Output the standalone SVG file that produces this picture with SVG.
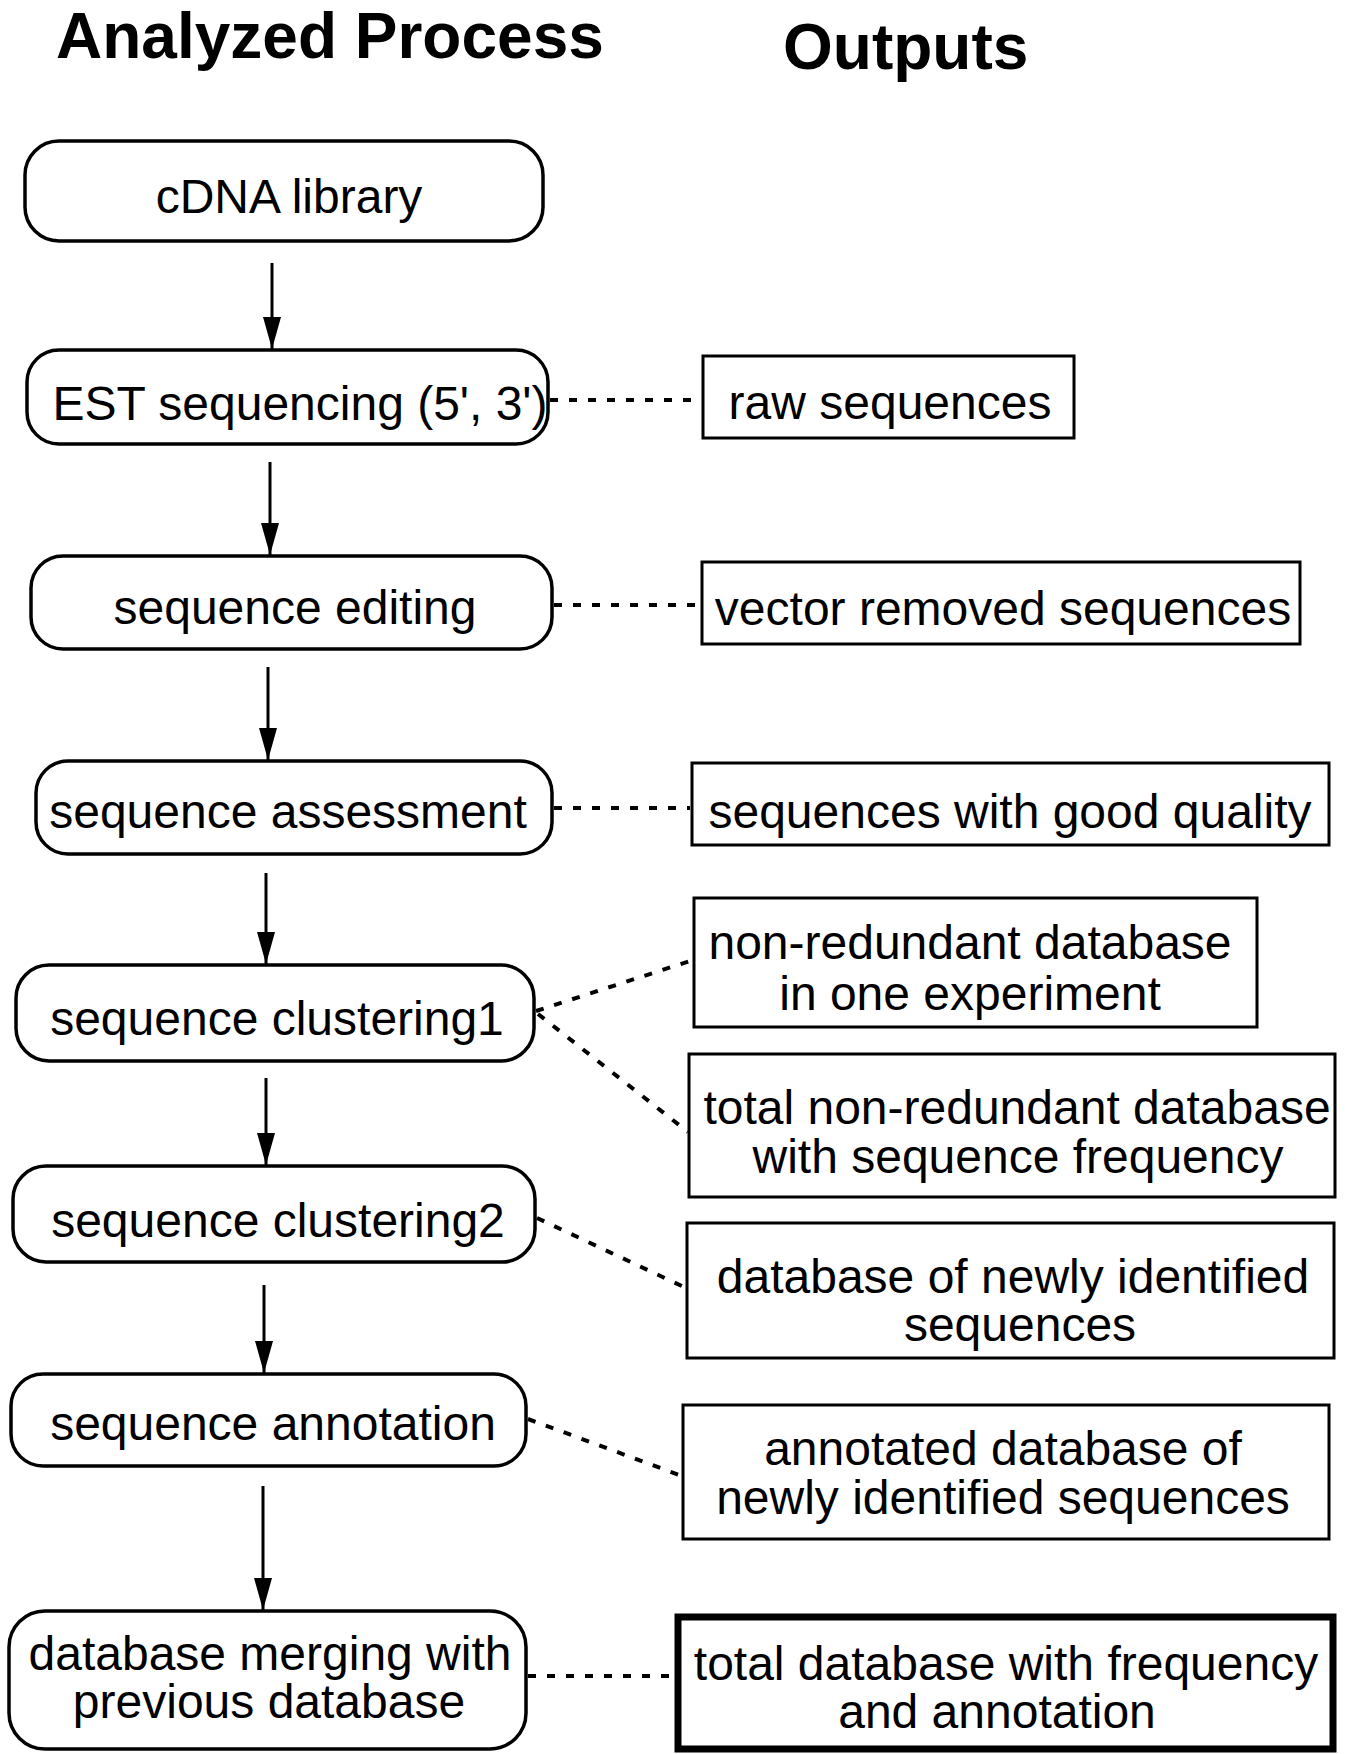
<svg xmlns="http://www.w3.org/2000/svg" width="1345" height="1754" viewBox="0 0 1345 1754">
<defs>
<style>
.t{font-family:"Liberation Sans",Arial,sans-serif;font-size:48px;fill:#000;text-anchor:middle}
.h{font-family:"Liberation Sans",Arial,sans-serif;font-size:64px;font-weight:bold;fill:#000}
.proc{fill:#fff;stroke:#000;stroke-width:3.5}
.out{fill:#fff;stroke:#000;stroke-width:3}
.final{fill:#fff;stroke:#000;stroke-width:7}
.arrow{stroke:#000;stroke-width:3;fill:none;marker-end:url(#ah)}
.dash{stroke:#000;stroke-width:4;fill:none;stroke-dasharray:8 11}
</style>
<marker id="ah" viewBox="0 0 32 18" refX="32" refY="9" markerWidth="32" markerHeight="18" markerUnits="userSpaceOnUse" orient="auto">
<path d="M0,0 L32,9 L0,18 z" fill="#000"/>
</marker>
</defs>
<rect width="1345" height="1754" fill="#fff"/>
<text class="h" x="56" y="58">Analyzed Process</text>
<text class="h" x="783" y="69">Outputs</text>

<g id="connectors">
<line class="arrow" x1="272" y1="263" x2="272" y2="349"/>
<line class="arrow" x1="270" y1="462" x2="270" y2="555"/>
<line class="arrow" x1="268" y1="667" x2="268" y2="760"/>
<line class="arrow" x1="266" y1="873" x2="266" y2="964"/>
<line class="arrow" x1="266" y1="1078" x2="266" y2="1165"/>
<line class="arrow" x1="264" y1="1285" x2="264" y2="1373"/>
<line class="arrow" x1="263" y1="1486" x2="263" y2="1610"/>
<line class="dash" x1="550" y1="400" x2="701" y2="400"/>
<line class="dash" x1="554" y1="605" x2="700" y2="605"/>
<line class="dash" x1="554" y1="808" x2="690" y2="808"/>
<line class="dash" x1="536" y1="1011" x2="693" y2="960"/>
<line class="dash" x1="538" y1="1014" x2="688" y2="1132"/>
<line class="dash" x1="537" y1="1218" x2="686" y2="1288"/>
<line class="dash" x1="528" y1="1419" x2="682" y2="1476"/>
<line class="dash" x1="528" y1="1676" x2="676" y2="1676"/>
</g>

<g id="n-cdna">
<rect class="proc" x="25" y="141" width="518" height="100" rx="34"/>
<text class="t" x="289" y="213">cDNA library</text>
</g>
<g id="n-est">
<rect class="proc" x="27" y="350" width="521" height="94" rx="32"/>
<text class="t" x="300" y="420">EST sequencing (5', 3')</text>
</g>
<g id="n-edit">
<rect class="proc" x="31" y="556" width="521" height="93" rx="32"/>
<text class="t" x="295" y="624">sequence editing</text>
</g>
<g id="n-assess">
<rect class="proc" x="36" y="761" width="516" height="93" rx="32"/>
<text class="t" x="288" y="828">sequence assessment</text>
</g>
<g id="n-clust1">
<rect class="proc" x="16" y="965" width="518" height="96" rx="33"/>
<text class="t" x="277" y="1035">sequence clustering1</text>
</g>
<g id="n-clust2">
<rect class="proc" x="13" y="1166" width="522" height="96" rx="33"/>
<text class="t" x="278" y="1237">sequence clustering2</text>
</g>
<g id="n-annot">
<rect class="proc" x="11" y="1374" width="515" height="92" rx="32"/>
<text class="t" x="273" y="1440">sequence annotation</text>
</g>
<g id="n-merge">
<rect class="proc" x="9" y="1611" width="517" height="138" rx="36"/>
<text class="t" x="270" y="1670">database merging with</text>
<text class="t" x="269" y="1718">previous database</text>
</g>

<g id="o-raw">
<rect class="out" x="703" y="356" width="371" height="82"/>
<text class="t" x="890" y="419">raw sequences</text>
</g>
<g id="o-vector">
<rect class="out" x="702" y="562" width="598" height="82"/>
<text class="t" x="1003" y="625">vector removed sequences</text>
</g>
<g id="o-quality">
<rect class="out" x="692" y="763" width="637" height="82"/>
<text class="t" x="1010" y="828">sequences with good quality</text>
</g>
<g id="o-nr1">
<rect class="out" x="694" y="898" width="563" height="129"/>
<text class="t" x="970" y="959">non-redundant database</text>
<text class="t" x="970" y="1010">in one experiment</text>
</g>
<g id="o-nrtotal">
<rect class="out" x="689" y="1054" width="646" height="143"/>
<text class="t" x="1017" y="1124">total non-redundant database</text>
<text class="t" x="1018" y="1173">with sequence frequency</text>
</g>
<g id="o-new">
<rect class="out" x="687" y="1223" width="647" height="135"/>
<text class="t" x="1013" y="1293">database of newly identified</text>
<text class="t" x="1020" y="1341">sequences</text>
</g>
<g id="o-annot">
<rect class="out" x="683" y="1405" width="646" height="134"/>
<text class="t" x="1003" y="1465">annotated database of</text>
<text class="t" x="1003" y="1514">newly identified sequences</text>
</g>
<g id="o-total">
<rect class="final" x="678" y="1617" width="655" height="132"/>
<text class="t" x="1006" y="1680">total database with frequency</text>
<text class="t" x="997" y="1728">and annotation</text>
</g>
</svg>
